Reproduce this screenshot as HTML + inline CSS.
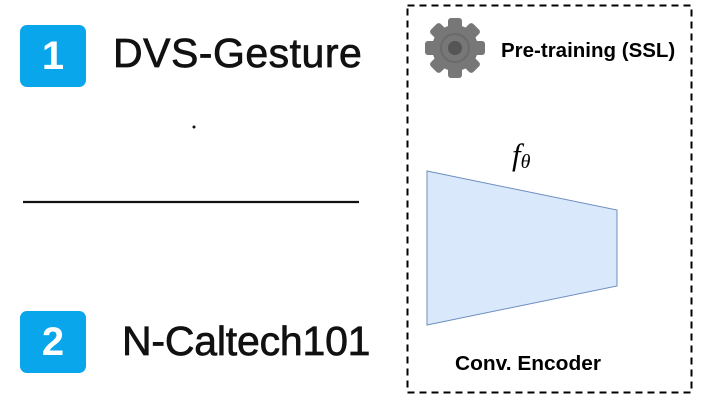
<!DOCTYPE html>
<html><head><style>
body{margin:0;width:704px;height:401px;background:#fff;overflow:hidden;position:relative;font-family:"Liberation Sans",sans-serif}
.badge{position:absolute;width:66px;height:62px;background:#0aa6ec;border-radius:7px;color:#fff;font-weight:bold;font-size:40px;text-align:center;line-height:62px}
.t{position:absolute;font-size:41px;color:#111;letter-spacing:0.5px;-webkit-text-stroke:0.7px #111}
</style></head><body>
<div class="badge" style="left:20px;top:25px">1</div>
<div class="t" style="left:113px;top:30px">DVS-Gesture</div>
<div class="badge" style="left:20px;top:311px">2</div>
<div class="t" style="left:122px;top:318px;letter-spacing:-0.2px">N-Caltech101</div>
<svg width="704" height="401" style="position:absolute;left:0;top:0">
<circle cx="194" cy="127" r="1.5" fill="#111"/>
<line x1="23" y1="202" x2="359" y2="202" stroke="#111" stroke-width="2.2"/>
<rect x="407.5" y="5.5" width="284" height="387" fill="none" stroke="#000" stroke-width="2" stroke-dasharray="7,5"/>
<g transform="translate(455,48)" fill="#777">
<circle r="23"/>
<g id="tooth"><rect x="-7" y="-30" width="14" height="12" rx="3"/></g>
<use href="#tooth" transform="rotate(45)"/><use href="#tooth" transform="rotate(90)"/><use href="#tooth" transform="rotate(135)"/>
<use href="#tooth" transform="rotate(180)"/><use href="#tooth" transform="rotate(225)"/><use href="#tooth" transform="rotate(270)"/><use href="#tooth" transform="rotate(315)"/>
<circle r="14" fill="none" stroke="#6a6a6a" stroke-width="2"/>
<circle r="7" fill="#555"/>
</g>
<text x="501" y="57" font-size="20.5" font-weight="bold" font-family="Liberation Sans">Pre-training (SSL)</text>
<polygon points="427,171 617,210 617,286 427,325" fill="#dae8fc" stroke="#6c8ebf" stroke-width="1"/>
<text x="512" y="165" font-size="31" font-style="italic" font-family="Liberation Serif">f<tspan font-size="20" dy="3">θ</tspan></text>
<text x="528" y="370" font-size="20" font-weight="bold" text-anchor="middle" font-family="Liberation Sans" textLength="146" lengthAdjust="spacingAndGlyphs">Conv. Encoder</text>
</svg>
</body></html>
